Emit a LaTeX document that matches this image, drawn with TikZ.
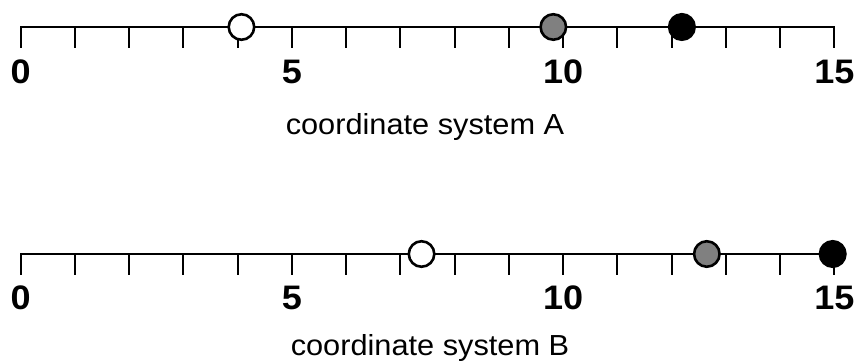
\documentclass[tikz,border=0pt]{standalone}
\usepackage{fontspec}
\setmainfont{Liberation Sans}
\begin{document}
\begin{tikzpicture}[line cap=rect,line join=miter,x=1pt,y=1pt,line width=2pt,
    num/.style={font=\bfseries\fontsize{34}{34}\selectfont,xscale=1.06,inner sep=0pt},
    caption/.style={font=\fontsize{29}{29}\selectfont,xscale=1.06,anchor=base,inner sep=0pt},
    dot/.style={circle,draw=black,line width=2.6pt,minimum size=25.5pt,inner sep=0pt}]
    \useasboundingbox (0,0) rectangle (857,361);
    \begin{scope}[shift={(20.7,334)},x=54.24pt]
    \coordinate (a0) at (0,0);
    \coordinate (a15) at (15,0);
    \draw (a0) -- (a15);
    \foreach \t in {0,...,15}
    \draw (\t,0) -- (\t,-20);
    \foreach \t in {0,5,10,15}
    \node[num] (alab\t) at (\t,-44.5) {\t};
    \node[dot,fill=white] (awhite) at (4.07,0) {};
    \node[dot,fill=gray] (agray) at (9.82,0) {};
    \node[dot,fill=black] (ablack) at (12.19,0) {};
    \end{scope}
    \node[caption] (captA) at (425,226) {coordinate system A};
    \begin{scope}[shift={(20.7,107)},x=54.24pt]
    \coordinate (b0) at (0,0);
    \coordinate (b15) at (15,0);
    \draw (b0) -- (b15);
    \foreach \t in {0,...,15}
    \draw (\t,0) -- (\t,-20);
    \foreach \t in {0,5,10,15}
    \node[num] (blab\t) at (\t,-44) {\t};
    \node[dot,fill=white] (bwhite) at (7.39,0) {};
    \node[dot,fill=gray] (bgray) at (12.65,0) {};
    \node[dot,fill=black] (bblack) at (14.97,0) {};
    \end{scope}
    \node[caption] (captB) at (430,5) {coordinate system B};
\end{tikzpicture}
\end{document}
